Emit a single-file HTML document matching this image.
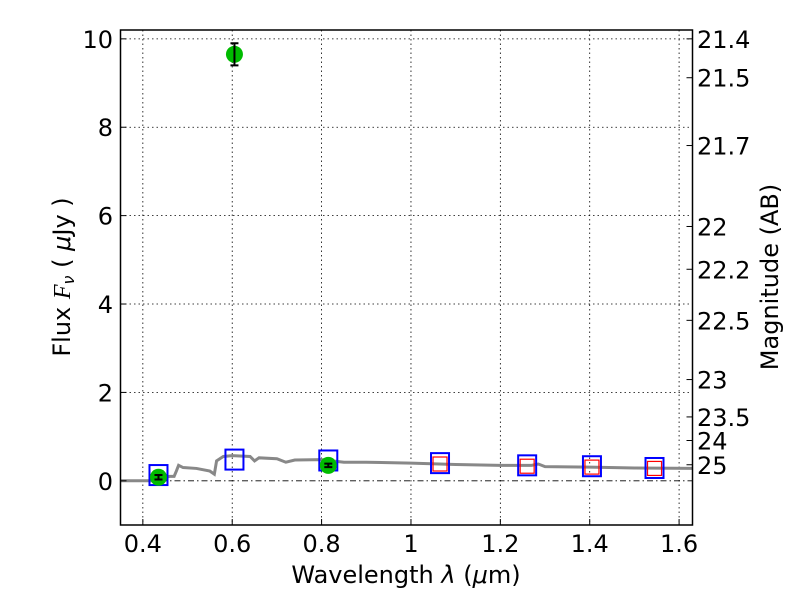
<!DOCTYPE html>
<html><head><meta charset="utf-8"><style>
body{margin:0;background:#fff}
svg text{font-family:"DejaVu Sans","Liberation Sans",sans-serif;fill:#000}
</style></head><body>
<svg id="chart" width="800" height="600" xmlns="http://www.w3.org/2000/svg">
<rect width="800" height="600" fill="#fff"/>
<g id="grid"></g>
<g id="marks"></g>
<rect x="120.5" y="30" width="572" height="495" fill="none" stroke="#000" stroke-width="1.5"/>
<g id="axes"></g>
<text x="406" y="583" font-size="24" text-anchor="middle">Wavelength  <tspan font-style="italic">λ</tspan> (<tspan font-style="italic">μ</tspan>m)</text>
<text transform="translate(70,277) rotate(-90)" font-size="24" text-anchor="middle">Flux  <tspan font-style="italic" font-family="Liberation Serif">F</tspan><tspan font-style="italic" font-size="16" dy="4">ν</tspan><tspan dy="-4">  ( </tspan><tspan font-style="italic">μ</tspan>Jy )</text>
<text transform="translate(778,277) rotate(-90)" font-size="24" text-anchor="middle">Magnitude (AB)</text>
</svg>
<script>
const xTicks=[0.4,0.6,0.8,1.0,1.2,1.4,1.6];
const xTickLabels=["0.4","0.6","0.8","1","1.2","1.4","1.6"];
const yTicks=[0,2,4,6,8,10];
const magTicks=[21.4,21.5,21.7,22,22.2,22.5,23,23.5,24,25];
const photWave=[0.435,0.605,0.815];
const photFlux=[0.08,9.65,0.35];
const photErr=[0.05,0.25,0.04];
const modelWave=[0.435,0.605,0.815,1.065,1.26,1.405,1.545];
const modelFlux=[0.13,0.48,0.46,0.40,0.35,0.33,0.29];
const redWave=[1.065,1.26,1.405,1.545];
const redFlux=[0.38,0.33,0.31,0.28];
const specWave=[0.35,0.43,0.44,0.46,0.47,0.475,0.48,0.49,0.52,0.55,0.56,0.565,0.58,0.6,0.64,0.65,0.66,0.7,0.72,0.74,0.8,0.85,0.9,1.0,1.1,1.2,1.27,1.285,1.3,1.4,1.5,1.63];
const specFlux=[0,0,0.06,0.1,0.1,0.22,0.35,0.3,0.28,0.22,0.15,0.45,0.55,0.57,0.55,0.45,0.52,0.5,0.42,0.47,0.48,0.42,0.42,0.4,0.37,0.35,0.35,0.38,0.32,0.31,0.29,0.28];
const X0=120.5,X1=692.5,Y0=525,Y1=30,xmin=0.35,xmax=1.63,ymin=-1,ymax=10.2;
const sx=v=>X0+(v-xmin)/(xmax-xmin)*(X1-X0);
const sy=v=>Y0-(v-ymin)/(ymax-ymin)*(Y0-Y1);
const NS="http://www.w3.org/2000/svg";
function mk(tag,parent,attrs){const e=document.createElementNS(NS,tag);for(const k in attrs)e.setAttribute(k,attrs[k]);parent.appendChild(e);return e;}
const grid=document.getElementById('grid'),marks=document.getElementById('marks'),axes=document.getElementById('axes');
xTicks.forEach((t,i)=>{
 const g=mk('line',grid,{x1:sx(t),x2:sx(t),y1:Y1,y2:Y0,stroke:'#000','stroke-width':0.8,'stroke-dasharray':'1.5,3'});
 
 
 const tk=mk('line',axes,{x1:sx(t),x2:sx(t),y1:Y0,y2:Y0-6,stroke:'#000'});
 
 
 const tx=mk('text',axes,{x:sx(t),y:552,'font-size':24,'text-anchor':'middle'});
 tx.textContent=xTickLabels[i];
 
 
});
yTicks.forEach(t=>{
 const g=mk('line',grid,{x1:X0,x2:X1,y1:sy(t),y2:sy(t),stroke:'#000','stroke-width':0.8,'stroke-dasharray':t===0?'6,3,1.5,3':'1.5,3'});
 
 
 const tk=mk('line',axes,{x1:X0,x2:X0+6,y1:sy(t),y2:sy(t),stroke:'#000'});
 
 
 const tx=mk('text',axes,{x:113,y:sy(t)+9,'font-size':24,'text-anchor':'end'});
 tx.textContent=String(t);
 
 
});
magTicks.forEach(m=>{
 const f=Math.pow(10,(23.9-m)/2.5);
 const tk=mk('line',axes,{x1:X1,x2:X1-6,y1:sy(f),y2:sy(f),stroke:'#000'});
 
 
 const tx=mk('text',axes,{x:697,y:sy(f)+9,'font-size':24});
 tx.textContent=String(m);
 
 
});
const sp=mk('polyline',marks,{points:specWave.map((w,i)=>sx(w)+','+sy(specFlux[i])).join(' '),fill:'none',stroke:'#888','stroke-width':3});


modelWave.forEach((w,i)=>{
 const r=mk('rect',marks,{x:sx(w)-9,y:sy(modelFlux[i])-10,width:18,height:20,fill:'none',stroke:'#0000ff','stroke-width':2});
 
 
});
redWave.forEach((w,i)=>{
 const r=mk('rect',marks,{x:sx(w)-7,y:sy(redFlux[i])-7,width:14,height:14,fill:'none',stroke:'#ff0000','stroke-width':1.2});
 
 
});
photWave.forEach((w,i)=>{
 const c=mk('circle',marks,{cx:sx(w),cy:sy(photFlux[i]),r:8.5,fill:'#00bb00'});
 
 
 const x=sx(w),a=sy(photFlux[i]+photErr[i]),b=sy(photFlux[i]-photErr[i]);
 const e=mk('path',marks,{d:`M${x},${a}V${b}M${x-4},${a}H${x+4}M${x-4},${b}H${x+4}`,stroke:'#000','stroke-width':2,fill:'none'});
 
 
});
</script>
</body></html>
